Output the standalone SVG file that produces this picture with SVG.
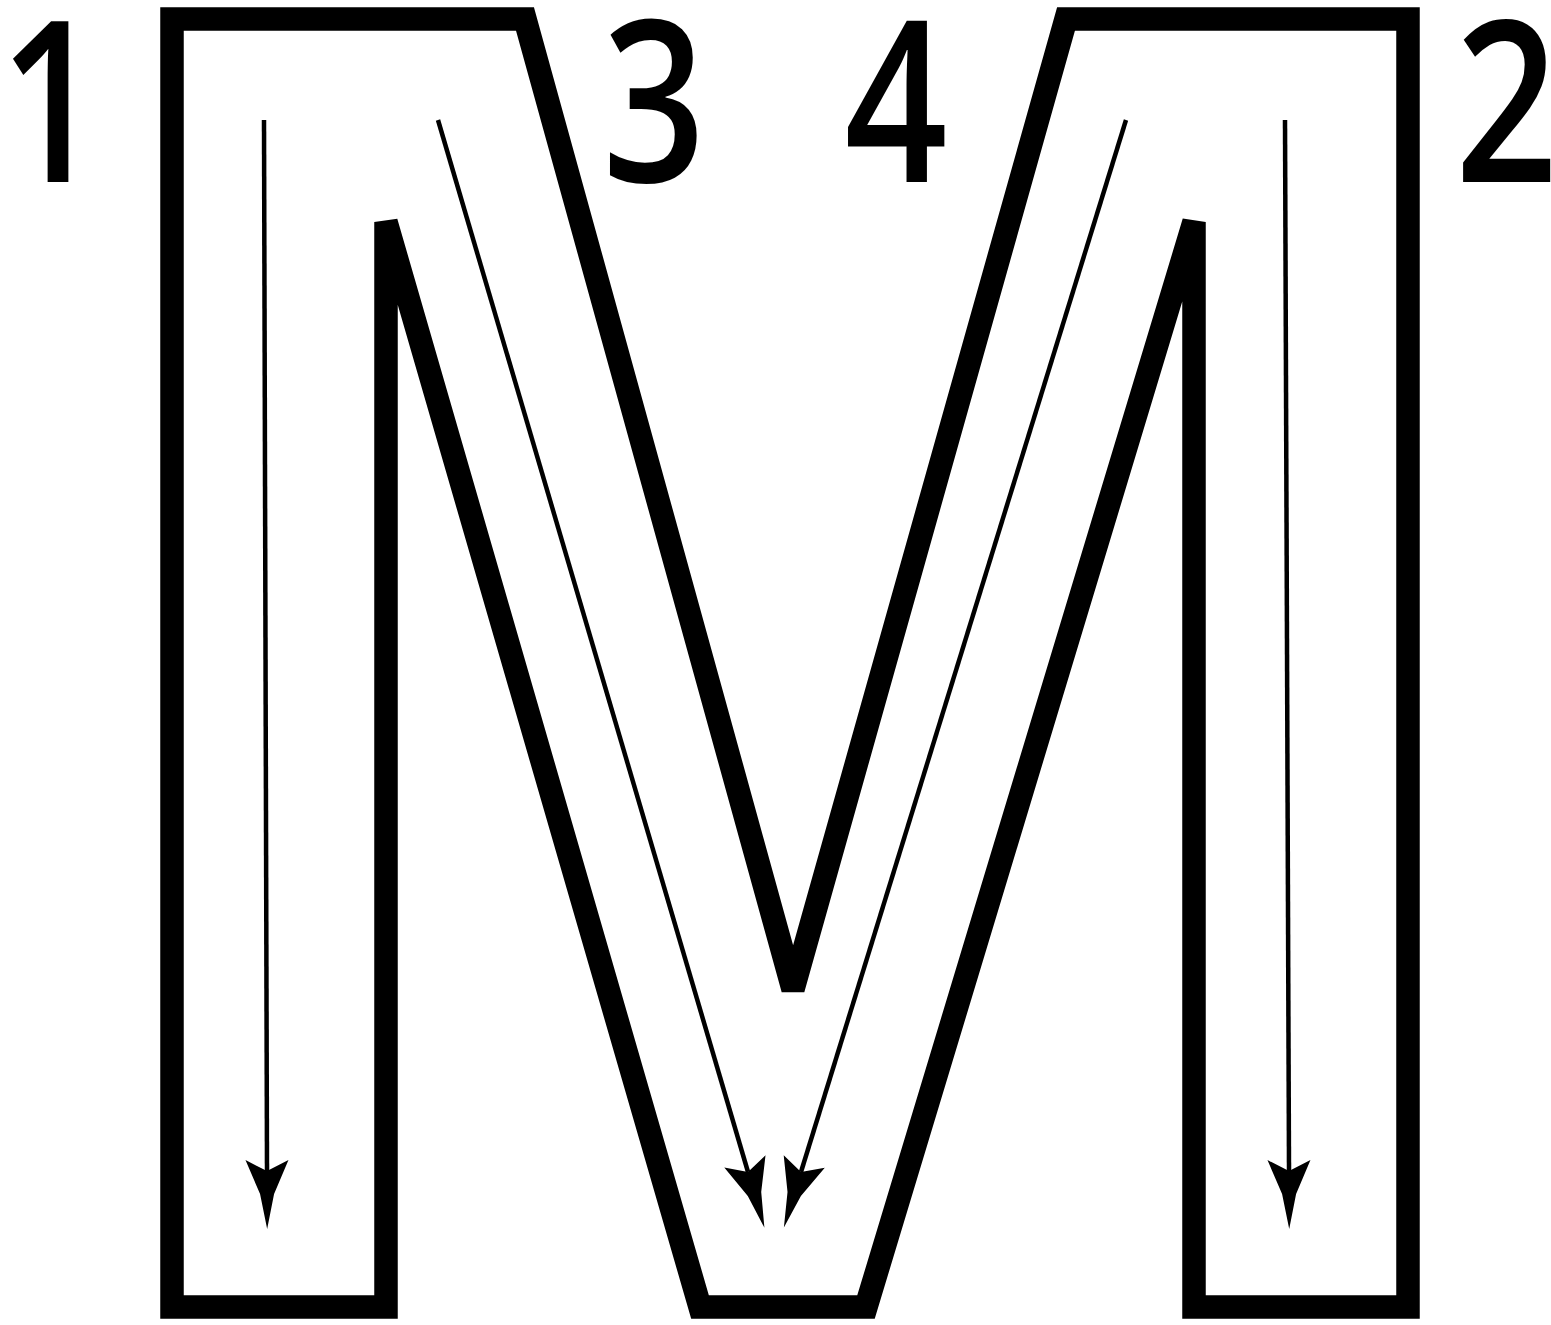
<svg xmlns="http://www.w3.org/2000/svg" width="1551" height="1325" viewBox="0 0 1551 1325">
  <style>
    .outline { fill: none; stroke: #000; stroke-width: 23.5; stroke-linejoin: miter; stroke-miterlimit: 3; }
    .conn { fill: none; stroke: #000; stroke-width: 4.5; }
    .lbl { font-family: "Open Sans", "Noto Sans", "DejaVu Sans", sans-serif; font-size: 225px; font-weight: 600; fill: #000; text-anchor: middle; }
  </style>
  <defs>
    <marker id="ah" markerUnits="userSpaceOnUse" markerWidth="80" markerHeight="60" refX="0" refY="0" orient="auto" overflow="visible" viewBox="-15 -25 80 50">
      <path d="M58,0 L23,-7 L-11,-21.5 L0,0 L-11,21.5 L23,7 Z" fill="#000"/>
    </marker>
  </defs>
  <g id="m-shape">
    <path class="outline" d="M172,19 L525,19 L793,989 L1066,19 L1408,19 L1408,1307 L1194,1307 L1194,222 L866,1307 L700,1307 L386,222 L386,1307 L172,1307 Z"/>
  </g>
  <g id="label-1"><text class="lbl" x="51" y="182" textLength="103" lengthAdjust="spacingAndGlyphs">1</text></g>
  <g id="label-3"><text class="lbl" x="654" y="182" textLength="103" lengthAdjust="spacingAndGlyphs">3</text></g>
  <g id="label-4"><text class="lbl" x="896" y="182" textLength="103" lengthAdjust="spacingAndGlyphs">4</text></g>
  <g id="label-2"><text class="lbl" x="1506.5" y="182" textLength="103" lengthAdjust="spacingAndGlyphs">2</text></g>
  <g id="connectors">
    <line class="conn" x1="264" y1="120" x2="267" y2="1171" marker-end="url(#ah)"/>
    <line class="conn" x1="438" y1="120" x2="748" y2="1172" marker-end="url(#ah)"/>
    <line class="conn" x1="1126" y1="120" x2="801" y2="1172" marker-end="url(#ah)"/>
    <line class="conn" x1="1285" y1="120" x2="1289" y2="1171" marker-end="url(#ah)"/>
  </g>
</svg>
